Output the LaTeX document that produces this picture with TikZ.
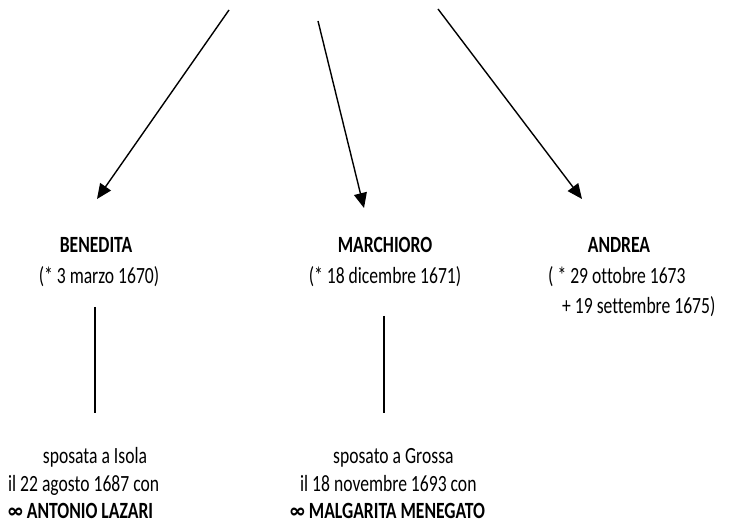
\documentclass[tikz,border=0pt]{standalone}
\usepackage{fontspec}
\setmainfont{Carlito}[Ligatures=NoCommon]
\usetikzlibrary{arrows.meta}
\newcommand{\tall}[1]{\scalebox{1}[1.32]{#1}}
\begin{document}
\begin{tikzpicture}[x=1pt,y=-1pt,
  txt/.style={anchor=base,inner sep=0pt,font=\fontsize{17.6}{21}\selectfont},
  bname/.style={txt,font=\fontsize{17.6}{21}\selectfont\bfseries},
  arr/.style={line width=1.4pt,-{Triangle[length=15pt,width=13pt]}},
  vline/.style={line width=1.2pt}]
\useasboundingbox (0,0) rectangle (753,526);
% free ends
\coordinate (s1) at (229,10);
\coordinate (e1) at (97,199);
\coordinate (s2) at (318,21);
\coordinate (e2) at (364,208);
\coordinate (s3) at (438,9);
\coordinate (e3) at (582,199);
\draw[arr] (s1) -- (e1);
\draw[arr] (s2) -- (e2);
\draw[arr] (s3) -- (e3);
% names
\node[bname] (n1) at (96,253) {\tall{BENEDITA}};
\node[txt] (d1) at (99,284) {\tall{(* 3 marzo 1670)}};
\node[bname] (n2) at (385,253) {\tall{MARCHIORO}};
\node[txt] (d2) at (385,284) {\tall{(* 18 dicembre 1671)}};
\node[bname] (n3) at (619,253) {\tall{ANDREA}};
\node[txt,anchor=base west] (d3) at (548,284) {\tall{( * 29 ottobre 1673}};
\node[txt,anchor=base west] (d3b) at (562,314) {\tall{+ 19 settembre 1675)}};
% vertical lines
\coordinate (v1t) at (95,307);
\coordinate (v1b) at (95,413);
\coordinate (v2t) at (384,316);
\coordinate (v2b) at (384,413);
\draw[vline] (v1t) -- (v1b);
\draw[vline] (v2t) -- (v2b);
% marriages
\node[txt] (m1a) at (95,464) {\tall{sposata a Isola}};
\node[txt,anchor=base west] (m1b) at (8,492) {\tall{il 22 agosto 1687 con}};
\node[txt,anchor=base west] (m1c) at (8,519) {\tall{\textbf{∞ ANTONIO LAZARI}}};
\node[txt,anchor=base west] (m2a) at (333,464) {\tall{sposato a Grossa}};
\node[txt,anchor=base west] (m2b) at (300,492) {\tall{il 18 novembre 1693 con}};
\node[txt,anchor=base west] (m2c) at (290,519) {\tall{\textbf{∞ MALGARITA MENEGATO}}};
\end{tikzpicture}
\end{document}
